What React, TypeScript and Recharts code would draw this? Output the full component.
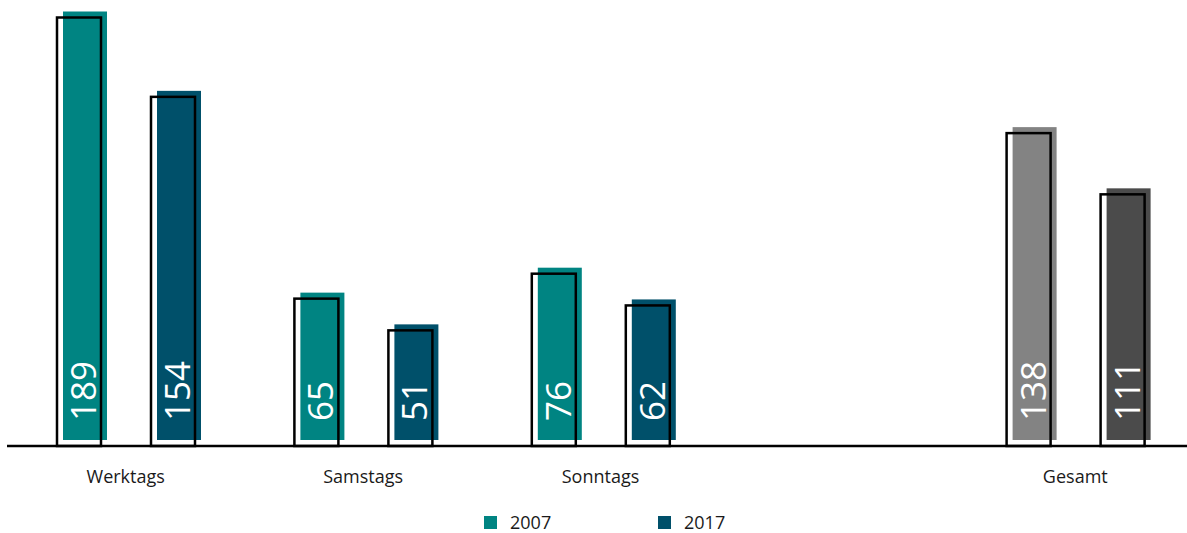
import React from 'react';
import { BarChart, Bar, XAxis, YAxis, Legend, Cell } from 'recharts';

const categories = ['Werktags', 'Samstags', 'Sonntags', '', 'Gesamt'];
const values2007 = [189, 65, 76, null, 138];
const values2017 = [154, 51, 62, null, 111];
const seriesNames = ['2007', '2017'];

const data = categories.map((name, i) => ({
    name,
    v2007: values2007[i],
    v2017: values2017[i],
}));

const COLORS = {
    v2007: '#008482',
    v2017: '#00506a',
    total2007: '#838383',
    total2017: '#4b4b4b',
};

const FONT = '"Open Sans", sans-serif';

// filled block shifted up-right, black frame at the true bar position
const OffsetBar = (props: any) => {
    const { x, y, width, height, fill, value } = props;
    if (value == null || !height) return null;
    const tx = x + width / 2 + 3.5;
    const ty = y + height - 25;
    return (
        <g>
            <rect x={x + 6} y={y - 6} width={width} height={height} fill={fill} />
            <rect x={x} y={y} width={width} height={height} fill="none" stroke="#000" strokeWidth={2.5} />
            <text
                x={tx}
                y={ty}
                transform={`rotate(-90 ${tx} ${ty})`}
                fill="#fff"
                fontSize={35}
                fontWeight={500}
                fontFamily={FONT}
                textAnchor="start"
                dominantBaseline="central"
            >
                {value}
            </text>
        </g>
    );
};

const LegendContent = () => (
    <div style={{ position: 'relative', height: 57, fontFamily: FONT, fontSize: 18, color: '#1a1a1a' }}>
        {seriesNames.map((s, i) => (
            <div key={s} style={{ position: 'absolute', left: 477 + i * 174, top: 37, display: 'flex', alignItems: 'center' }}>
                <div style={{ width: 13, height: 13, background: i === 0 ? COLORS.v2007 : COLORS.v2017 }} />
                <span style={{ marginLeft: 13, lineHeight: '18px' }}>{s}</span>
            </div>
        ))}
    </div>
);

export default function App() {
    return (
        <div style={{ position: 'absolute', left: 0, top: 0, width: 1187, height: 533, overflow: 'hidden', background: '#fff' }}>
            <BarChart
                width={1200}
                height={533}
                data={data}
                margin={{ top: 17.5, right: 6, left: 7, bottom: 0 }}
                barSize={44}
                barGap={50}
            >
                <XAxis
                    dataKey="name"
                    interval={0}
                    tickLine={false}
                    tickSize={0}
                    tickMargin={24}
                    axisLine={{ stroke: '#000', strokeWidth: 2.5 }}
                    tick={{ fill: '#1a1a1a', fontSize: 18, fontFamily: FONT }}
                />
                <YAxis hide domain={[0, 189]} />
                <Legend verticalAlign="bottom" content={<LegendContent />} />
                <Bar dataKey="v2007" shape={<OffsetBar />} isAnimationActive={false}>
                    {data.map((d, i) => (
                        <Cell key={i} fill={d.name === 'Gesamt' ? COLORS.total2007 : COLORS.v2007} />
                    ))}
                </Bar>
                <Bar dataKey="v2017" shape={<OffsetBar />} isAnimationActive={false}>
                    {data.map((d, i) => (
                        <Cell key={i} fill={d.name === 'Gesamt' ? COLORS.total2017 : COLORS.v2017} />
                    ))}
                </Bar>
            </BarChart>
        </div>
    );
}
